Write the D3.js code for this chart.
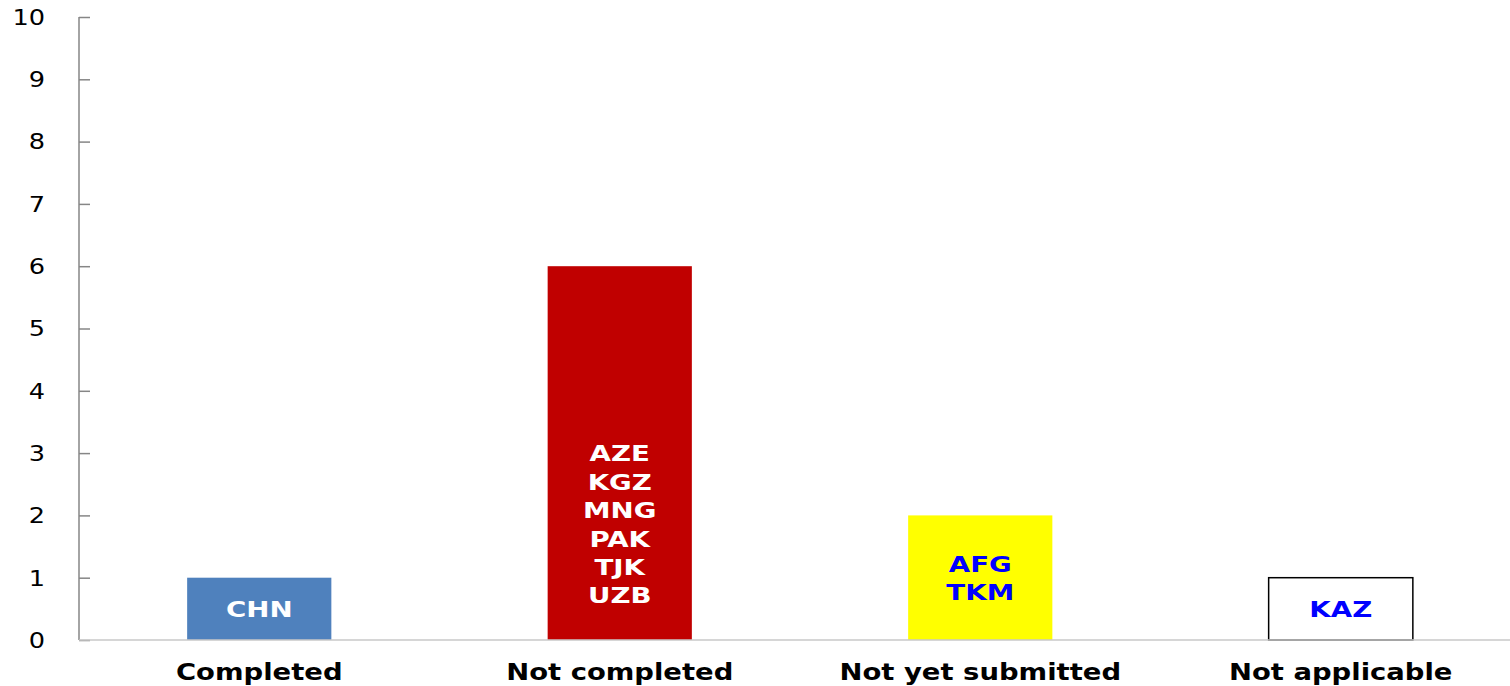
<!DOCTYPE html>
<html>
<head>
<meta charset="utf-8">
<script src="https://cdn.jsdelivr.net/npm/d3@7"></script>
<style>
  html, body { margin: 0; padding: 0; background: #fff; }
  svg { display: block; }
  text { font-family: "DejaVu Sans", Verdana, sans-serif; }
</style>
</head>
<body>
<svg id="chart" width="1510" height="686"></svg>
<script>
// Status of reports by country group
const categories = ["Completed", "Not completed", "Not yet submitted", "Not applicable"];
const counts = [1, 6, 2, 1];
const countryLabels = [
  ["CHN"],
  ["", "", "", "", "", "AZE", "KGZ", "MNG", "PAK", "TJK", "UZB"],
  ["AFG", "TKM"],
  ["KAZ"]
];
const barFills = ["#4F81BD", "#C00000", "#FFFF00", "#FFFFFF"];
const barStrokes = ["none", "none", "none", "#000000"];
const labelColors = ["#FFFFFF", "#FFFFFF", "#0000FF", "#0000FF"];
const yTicks = [0, 1, 2, 3, 4, 5, 6, 7, 8, 9, 10];

const svg = d3.select("#chart");
// the plot area runs slightly past the right edge of the canvas
const plot = { left: 79, right: 1521, top: 17, bottom: 640 };
const stretch = 1.22;

const x = d3.scaleBand().domain(categories).range([plot.left, plot.right])
  .paddingInner(0.6).paddingOuter(0.3);
const y = d3.scaleLinear().domain([0, 10]).range([plot.bottom, plot.top]);

// bars
const rows = categories.map((c, i) => ({
  cat: c, value: counts[i], lines: countryLabels[i],
  fill: barFills[i], stroke: barStrokes[i], color: labelColors[i]
}));

svg.append("g").selectAll("rect").data(rows).join("rect")
  .attr("x", d => x(d.cat))
  .attr("y", d => y(d.value))
  .attr("width", x.bandwidth())
  .attr("height", d => y(0) - y(d.value))
  .attr("fill", d => d.fill)
  .attr("stroke", d => d.stroke)
  .attr("stroke-width", 1.5);

// y axis: ticks drawn to the inside of the plot
const yAxis = d3.axisLeft(y).tickValues(yTicks).tickSize(-11).tickPadding(0).tickFormat(d3.format("d"));
const gy = svg.append("g").attr("transform", `translate(${plot.left},0)`).call(yAxis);
gy.select(".domain").attr("stroke", "#868686").attr("stroke-width", 1.5)
  .attr("d", `M0,${plot.top}V${plot.bottom}`);
gy.selectAll(".tick line").attr("stroke", "#868686").attr("stroke-width", 1.5);
gy.selectAll(".tick text").remove();
gy.selectAll(".tick").append("text")
  .attr("transform", `translate(-34,0) scale(${stretch},1)`)
  .attr("text-anchor", "end")
  .attr("dy", "0.35em")
  .attr("fill", "#000")
  .attr("font-size", 21)
  .text(d => d);

// x axis baseline
const xAxis = d3.axisBottom(x).tickSize(0).tickPadding(0);
const gx = svg.append("g").attr("transform", `translate(0,${plot.bottom})`).call(xAxis);
gx.select(".domain").attr("stroke", "#C8C8C8").attr("stroke-width", 1.5)
  .attr("d", `M${plot.left},0H${plot.right}`);
gx.selectAll(".tick text").remove();
gx.selectAll(".tick").append("text")
  .attr("transform", `translate(0,40) scale(${stretch},1)`)
  .attr("text-anchor", "middle")
  .attr("fill", "#000")
  .attr("font-weight", "bold")
  .attr("font-size", 22.5)
  .text(d => d);

// country labels centred in each bar
const lineH = 28.4;
const lbl = svg.append("g").selectAll("g").data(rows).join("g")
  .attr("transform", d => `translate(${x(d.cat) + x.bandwidth() / 2},${(y(d.value) + y(0)) / 2})`);
lbl.each(function(d) {
  const n = d.lines.length;
  d3.select(this).selectAll("text").data(d.lines).join("text")
    .attr("transform", (t, i) => `translate(0,${(i - (n - 1) / 2) * lineH}) scale(1.35,1)`)
    .attr("text-anchor", "middle")
    .attr("dy", "0.4em")
    .attr("fill", d.color)
    .attr("font-weight", "bold")
    .attr("font-size", 20.5)
    .text(t => t);
});
</script>
</body>
</html>
